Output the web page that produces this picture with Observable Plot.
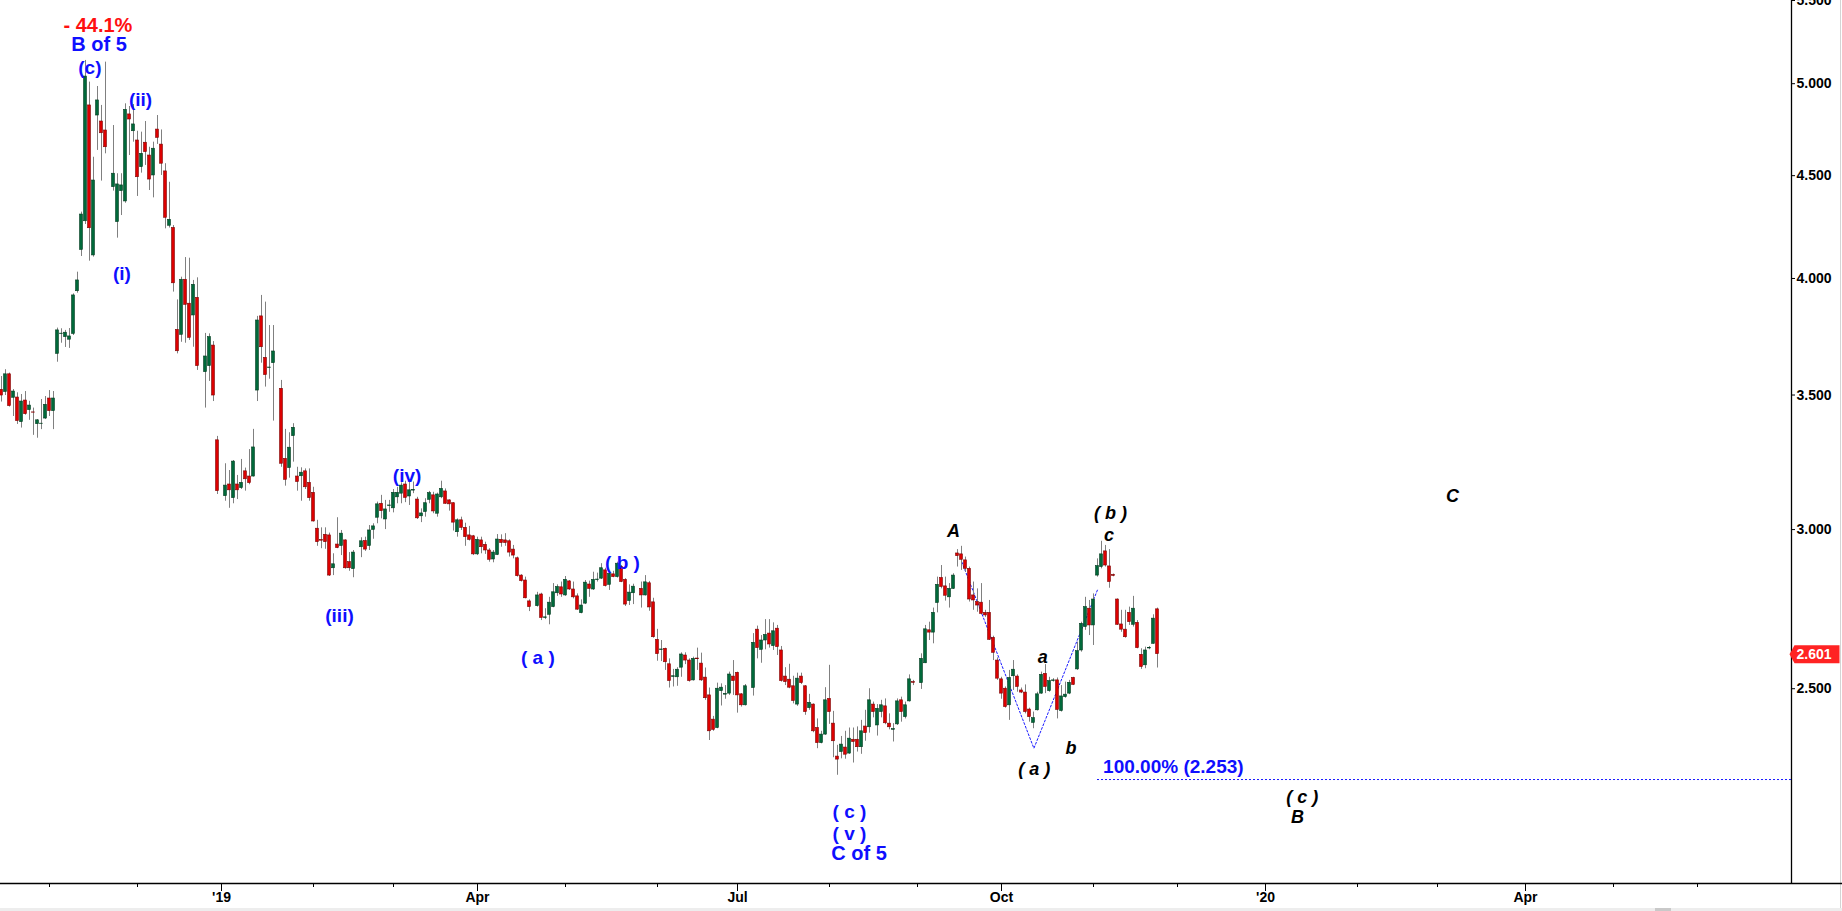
<!DOCTYPE html>
<html>
<head>
<meta charset="utf-8">
<script src="https://cdn.jsdelivr.net/npm/d3@7"></script>
<script src="https://cdn.jsdelivr.net/npm/@observablehq/plot@0.6"></script>
<style>
  html, body { margin: 0; padding: 0; background: #fff; overflow: hidden; }
  #wrap { position: relative; width: 1842px; height: 911px; overflow: hidden; background: #fff; }
  #wrap svg { position: absolute; left: 0; top: 0; }
  .strip { position: absolute; left: 0; top: 908px; width: 1842px; height: 3px; background: #ededed; }
  .thumb { position: absolute; left: 1655px; top: 908px; width: 16px; height: 3px; background: #c9c9c9; }
  .edge { position: absolute; left: 1840px; top: 0; width: 1px; height: 908px; background: #d4d4d4; }
</style>
</head>
<body>
<div id="wrap"><div class="edge"></div><div class="strip"></div><div class="thumb"></div></div>
<script>
// ---------------- DATA ----------------
const firstDay = "2018-10-16";            // first weekday slot shown
const holidays = ["2018-11-22","2018-12-25","2019-01-01","2019-01-21","2019-02-18",
                  "2019-04-19","2019-05-27","2019-07-04","2019-09-02"];

const open = [
  // Oct 16 - Nov 21, 2018
  3.521,3.512,3.584,3.489,3.490,3.393,3.478,3.440,3.431,3.385,3.386,3.407,3.486,3.436,
  3.669,3.753,3.740,3.729,3.754,3.942,4.133,4.271,4.877,4.107,4.821,4.788,4.739,
  // Nov 23 - Dec 24
  4.441,4.267,4.421,4.369,4.827,4.735,4.685,4.544,4.673,4.605,4.501,4.744,4.663,4.522,4.249,4.238,3.771,3.750,3.994,3.886,3.834,3.912,
  // Dec 26 - Dec 31
  3.593,3.618,3.704,3.323,
  // Jan 2 - Jan 18, 2019
  3.117,3.159,3.110,3.159,3.146,3.207,3.188,3.188,3.518,3.830,3.652,3.610,3.630,
  // Jan 22 - Feb 15
  3.525,3.253,3.219,3.339,3.188,3.189,3.207,3.165,3.129,3.003,2.964,2.982,2.980,2.870,2.949,2.944,2.963,2.890,2.867,
  // Feb 19 - Apr 18
  2.940,2.961,2.944,2.999,3.041,3.090,3.035,3.082,3.074,3.113,3.126,3.159,3.116,3.137,3.105,3.046,3.061,3.104,3.120,3.055,3.113,3.134,3.102,3.092,2.991,3.032,3.006,2.980,2.977,2.916,2.963,2.948,2.929,2.899,2.914,2.965,2.963,2.960,2.932,2.903,2.846,2.830,2.763,
  // Apr 22 - May 24
  2.748,2.785,2.711,2.721,2.745,2.789,2.808,2.782,2.827,2.801,2.779,2.726,2.756,2.817,2.801,2.831,2.836,2.863,2.816,2.850,2.841,2.874,2.832,2.764,2.789,
  // May 28 - Jul 3
  2.803,2.782,2.821,2.760,2.644,2.613,2.617,2.571,2.534,2.533,2.561,2.597,2.582,2.524,2.588,2.573,2.532,2.481,2.413,2.390,2.493,2.483,2.486,2.535,2.546,2.484,2.453,
  // Jul 5 - Aug 30
  2.502,2.675,2.614,2.642,2.663,2.625,2.678,2.612,2.535,2.526,2.507,2.455,2.535,2.507,2.445,2.455,2.390,2.349,2.372,2.471,2.402,2.313,2.325,2.337,2.321,2.358,2.358,2.338,2.394,2.392,2.455,2.397,2.434,2.450,2.402,2.385,2.400,2.467,2.420,2.464,2.519,
  // Sep 3 - Nov 22
  2.516,2.574,2.673,2.666,2.758,2.838,2.811,2.776,2.803,2.919,2.916,2.896,2.868,2.782,2.761,2.759,2.727,2.727,2.650,2.582,2.527,2.500,2.453,2.536,2.535,2.495,2.489,2.441,2.404,2.439,2.486,2.543,2.493,2.522,2.524,2.437,2.476,2.486,2.531,2.556,2.612,2.683,2.740,2.688,2.846,2.874,2.926,2.876,2.848,2.769,2.691,2.675,2.727,2.690,2.696,2.599,2.568,2.618,2.632,2.738
];
const high = [
  3.575,3.603,3.589,3.522,3.509,3.502,3.514,3.475,3.448,3.403,3.482,3.494,3.518,3.514,
  3.779,3.776,3.769,3.777,3.930,4.029,4.316,5.135,5.009,4.596,4.984,4.877,5.125,
  4.766,4.510,4.510,4.886,4.871,4.882,4.735,4.730,4.788,4.649,4.676,4.821,4.742,4.562,4.466,4.250,3.903,4.006,4.097,4.094,3.991,4.003,
  3.756,3.754,3.721,3.338,
  3.235,3.210,3.247,3.192,3.251,3.219,3.288,3.365,3.830,3.923,3.893,3.790,3.790,
  3.559,3.365,3.352,3.387,3.222,3.220,3.216,3.216,3.149,3.032,3.006,3.006,2.988,2.918,3.041,2.997,2.965,2.922,2.929,
  2.972,2.974,3.014,3.020,3.096,3.120,3.102,3.102,3.141,3.149,3.165,3.171,3.171,3.168,3.113,3.072,3.108,3.134,3.131,3.128,3.171,3.143,3.104,3.094,3.037,3.043,3.022,3.011,2.980,2.974,2.974,2.957,2.935,2.929,2.983,2.982,2.986,2.965,2.946,2.907,2.849,2.841,2.768,
  2.792,2.789,2.740,2.776,2.820,2.816,2.825,2.843,2.830,2.825,2.787,2.768,2.830,2.828,2.857,2.854,2.885,2.870,2.855,2.860,2.890,2.879,2.836,2.816,2.818,
  2.825,2.846,2.827,2.773,2.676,2.642,2.619,2.587,2.556,2.561,2.605,2.605,2.587,2.592,2.619,2.604,2.560,2.502,2.422,2.516,2.514,2.509,2.548,2.582,2.548,2.486,2.512,
  2.663,2.686,2.657,2.706,2.706,2.696,2.688,2.624,2.561,2.571,2.536,2.545,2.545,2.509,2.484,2.457,2.415,2.381,2.503,2.568,2.436,2.343,2.367,2.381,2.390,2.390,2.393,2.411,2.439,2.500,2.462,2.455,2.467,2.471,2.429,2.402,2.471,2.476,2.462,2.540,2.524,
  2.602,2.688,2.698,2.742,2.841,2.879,2.841,2.820,2.852,2.932,2.943,2.907,2.874,2.825,2.803,2.820,2.735,2.766,2.655,2.590,2.533,2.505,2.553,2.582,2.540,2.502,2.511,2.445,2.434,2.490,2.548,2.570,2.533,2.529,2.531,2.509,2.519,2.524,2.533,2.637,2.698,2.776,2.766,2.787,2.901,2.960,2.946,2.932,2.851,2.771,2.735,2.735,2.745,2.779,2.703,2.617,2.622,2.624,2.721,2.742
];
const low = [
  3.472,3.498,3.452,3.415,3.384,3.370,3.420,3.400,3.342,3.331,3.364,3.403,3.415,3.364,
  3.634,3.714,3.696,3.692,3.747,3.933,4.102,4.255,4.080,4.099,4.632,4.472,4.614,
  4.421,4.189,4.299,4.360,4.605,4.676,4.394,4.513,4.553,4.424,4.387,4.664,4.501,4.234,4.238,3.938,3.669,3.718,3.714,3.726,3.697,3.600,
  3.448,3.555,3.474,3.123,
  3.099,3.074,3.090,3.105,3.141,3.135,3.158,3.186,3.474,3.630,3.532,3.564,3.397,
  3.222,3.153,3.182,3.241,3.135,3.099,3.141,3.099,3.026,2.943,2.935,2.933,2.843,2.846,2.935,2.912,2.867,2.860,2.839,
  2.905,2.926,2.929,2.967,3.020,3.037,3.000,3.060,3.058,3.090,3.090,3.094,3.084,3.126,3.035,3.024,3.043,3.090,3.055,3.043,3.108,3.088,3.064,2.995,2.974,2.997,2.943,2.961,2.912,2.912,2.918,2.916,2.890,2.888,2.912,2.940,2.943,2.907,2.901,2.841,2.825,2.771,2.731,
  2.745,2.703,2.706,2.690,2.743,2.779,2.776,2.779,2.798,2.771,2.735,2.724,2.753,2.776,2.798,2.825,2.833,2.809,2.798,2.839,2.838,2.823,2.747,2.750,2.753,
  2.742,2.780,2.732,2.649,2.580,2.579,2.553,2.502,2.505,2.507,2.533,2.570,2.519,2.522,2.553,2.521,2.467,2.356,2.381,2.388,2.451,2.470,2.481,2.481,2.431,2.448,2.451,
  2.479,2.587,2.574,2.614,2.619,2.612,2.597,2.519,2.509,2.500,2.457,2.450,2.512,2.425,2.439,2.377,2.334,2.347,2.370,2.400,2.310,2.264,2.307,2.306,2.319,2.296,2.325,2.319,2.354,2.376,2.418,2.368,2.418,2.399,2.385,2.352,2.397,2.406,2.415,2.462,2.509,
  2.498,2.573,2.642,2.632,2.727,2.803,2.764,2.742,2.801,2.874,2.863,2.857,2.761,2.735,2.729,2.721,2.713,2.642,2.582,2.524,2.470,2.445,2.411,2.495,2.490,2.486,2.429,2.406,2.388,2.437,2.484,2.486,2.490,2.519,2.415,2.434,2.473,2.483,2.509,2.553,2.607,2.673,2.657,2.627,2.841,2.868,2.874,2.805,2.842,2.688,2.667,2.649,2.688,2.683,2.617,2.556,2.558,2.614,2.631,2.560
];
const close = [
  3.498,3.584,3.456,3.514,3.397,3.474,3.424,3.458,3.430,3.400,3.387,3.461,3.436,3.486,
  3.769,3.755,3.759,3.743,3.923,3.991,4.304,5.041,4.237,4.475,4.905,4.724,4.649,
  4.510,4.455,4.450,4.852,4.799,4.772,4.492,4.614,4.623,4.480,4.641,4.699,4.562,4.288,4.278,3.978,3.680,3.994,3.881,3.737,3.971,3.618,
  3.658,3.740,3.498,3.135,
  3.155,3.138,3.243,3.138,3.165,3.178,3.164,3.296,3.812,3.697,3.581,3.612,3.679,
  3.235,3.176,3.295,3.371,3.168,3.202,3.149,3.110,3.028,2.957,2.962,2.957,2.846,2.883,2.937,2.986,2.870,2.870,2.922,
  2.960,2.932,2.997,3.011,3.088,3.064,3.070,3.084,3.129,3.129,3.155,3.111,3.138,3.139,3.039,3.056,3.092,3.128,3.063,3.123,3.143,3.090,3.088,3.024,3.032,3.006,2.974,2.965,2.916,2.965,2.940,2.929,2.898,2.922,2.966,2.954,2.954,2.922,2.912,2.844,2.828,2.773,2.745,
  2.782,2.711,2.713,2.759,2.792,2.809,2.785,2.832,2.801,2.776,2.737,2.750,2.823,2.803,2.832,2.833,2.870,2.812,2.852,2.841,2.885,2.825,2.753,2.791,2.810,
  2.782,2.824,2.744,2.652,2.601,2.615,2.577,2.522,2.536,2.555,2.600,2.582,2.522,2.587,2.586,2.524,2.473,2.381,2.385,2.500,2.503,2.485,2.541,2.522,2.481,2.453,2.507,
  2.635,2.619,2.642,2.659,2.630,2.670,2.622,2.522,2.519,2.503,2.465,2.529,2.516,2.434,2.460,2.381,2.349,2.372,2.467,2.434,2.354,2.305,2.345,2.318,2.361,2.352,2.338,2.381,2.376,2.467,2.434,2.443,2.453,2.403,2.392,2.387,2.464,2.434,2.453,2.527,2.517,
  2.587,2.676,2.666,2.727,2.816,2.809,2.781,2.803,2.846,2.910,2.898,2.868,2.769,2.766,2.750,2.724,2.719,2.644,2.605,2.529,2.486,2.448,2.531,2.555,2.505,2.489,2.434,2.420,2.417,2.484,2.540,2.505,2.522,2.524,2.440,2.478,2.483,2.517,2.511,2.610,2.693,2.745,2.688,2.769,2.877,2.916,2.879,2.825,2.845,2.690,2.675,2.652,2.698,2.740,2.619,2.563,2.612,2.620,2.709,2.601
];

const yTicks = [2.5, 3.0, 3.5, 4.0, 4.5, 5.0, 5.5];
const tickMonths = ["2018-11","2018-12","2019-01","2019-02","2019-03","2019-04","2019-05","2019-06",
  "2019-07","2019-08","2019-09","2019-10","2019-11","2019-12","2020-01","2020-02","2020-03",
  "2020-04","2020-05","2020-06"];
const quarterLabels = {"2019-01":"'19","2019-04":"Apr","2019-07":"Jul","2019-10":"Oct","2020-01":"'20","2020-04":"Apr"};

const lastPrice = 2.601;
const targetLevel = 2.253;
const targetText = "100.00% (2.253)";
const targetStartSlot = 274;

// Elliott wave labels: slot position (weekday index), price, text
const blueLabels = [
  {slot: 22.1, price: 5.091, text: "(c)"},
  {slot: 34.75, price: 4.910, text: "(ii)"},
  {slot: 30.1, price: 4.019, text: "(i)"},
  {slot: 84.5, price: 2.716, text: "(iii)"},
  {slot: 101.4, price: 3.189, text: "(iv)"},
  {slot: 134.1, price: 2.591, text: "( a )"},
  {slot: 155.25, price: 2.888, text: "( b )"},
  {slot: 212, price: 2.170, text: "( c )"},
  {slot: 212, price: 2.118, text: "( v )"}
];
const blueTitles = [
  {slot: 24.4, price: 5.230, text: "B of 5"},
  {slot: 214.4, price: 2.070, text: "C of 5"}
];
const redLabels = [{slot: 24.1, price: 5.345, text: "- 44.1%"}];
const blackLabels = [
  {slot: 238, price: 2.994, text: "A"},
  {slot: 277.25, price: 3.056, text: "( b )"},
  {slot: 276.9, price: 2.980, text: "c"},
  {slot: 260.3, price: 2.592, text: "a"},
  {slot: 267.4, price: 2.334, text: "b"},
  {slot: 258.2, price: 2.281, text: "( a )"},
  {slot: 325.2, price: 2.208, text: "( c )"},
  {slot: 324, price: 2.158, text: "B"},
  {slot: 362.75, price: 3.116, text: "C"}
];
const zigzag = [
  {slot: 240.1, price: 2.890},
  {slot: 258.1, price: 2.335},
  {slot: 274.1, price: 2.803}
];

// ---------------- BUILD ----------------
const FONT = "'Liberation Sans', Arial, Helvetica, sans-serif";
const slotDates = [];
{
  let t = Date.parse(firstDay + "T00:00:00Z");
  while (slotDates.length < 480) {
    const d = new Date(t);
    const wd = d.getUTCDay();
    if (wd !== 0 && wd !== 6) slotDates.push(d.toISOString().slice(0, 10));
    t += 86400000;
  }
}
const holidaySet = new Set(holidays);
const tradingSlots = [];
slotDates.forEach((d, s) => { if (!holidaySet.has(d)) tradingSlots.push(s); });
const candles = close.map((c, j) => ({
  slot: tradingSlots[j], date: slotDates[tradingSlots[j]],
  open: open[j], high: high[j], low: low[j], close: c
}));
const upC = candles.filter(d => d.close >= d.open);
const downC = candles.filter(d => d.close < d.open);

const slotOfMonth = ym => slotDates.findIndex(d => d >= ym + "-01");
const majorMap = new Map();
const minorSlots = [];
tickMonths.forEach(m => {
  const s = slotOfMonth(m);
  if (quarterLabels[m]) majorMap.set(s, quarterLabels[m]); else minorSlots.push(s);
});
const majorSlots = [...majorMap.keys()];

const X_MIN = -0.25, X_MAX = 447.5;
const GREEN = "#00693a", GREEN_EDGE = "#003b1e";
const RED = "#dc0000", RED_EDGE = "#7c0000";
const HALF = 0.36;

const tagSymbol = {
  draw(ctx) {
    ctx.moveTo(-2, 0); ctx.lineTo(3, -9); ctx.lineTo(48, -9);
    ctx.lineTo(48, 9); ctx.lineTo(3, 9); ctx.closePath();
  }
};

const chart = Plot.plot({
  width: 1842, height: 911,
  marginTop: 0, marginRight: 51, marginBottom: 28, marginLeft: 0,
  x: {type: "linear", domain: [X_MIN, X_MAX], axis: null, label: null},
  y: {type: "log", domain: [2.0, 5.5], axis: null, label: null},
  style: {background: "transparent", fontFamily: FONT, fontSize: "14px", fontWeight: "bold", color: "#000", overflow: "visible"},
  marks: [
    // axes lines
    Plot.ruleY([2.0], {x1: X_MIN, x2: 460.25, stroke: "#000", strokeWidth: 1.3}),
    Plot.ruleX([X_MAX], {y1: 2.0, y2: 5.5, stroke: "#000", strokeWidth: 1.3}),
    Plot.axisX(minorSlots, {anchor: "bottom", tickSize: 4, tickFormat: () => "", label: null}),
    Plot.axisX(majorSlots, {anchor: "bottom", tickSize: 8, tickPadding: 1, tickFormat: s => majorMap.get(s),
      fontSize: 14, fontWeight: "bold", label: null}),
    Plot.axisY(yTicks, {anchor: "right", tickSize: 3, tickPadding: 2, tickFormat: d3.format(".3f"),
      fontSize: 14, fontWeight: "bold", label: null}),
    // target level
    Plot.ruleY([targetLevel], {x1: targetStartSlot, x2: X_MAX, stroke: "#1a1aff", strokeWidth: 1, strokeDasharray: "2,2"}),
    Plot.line(zigzag, {x: "slot", y: "price", stroke: "#1a1aff", strokeWidth: 1, strokeDasharray: "2,2"}),
    // candles
    Plot.ruleX(candles, {x: "slot", y1: "low", y2: "high", stroke: "#808080", strokeWidth: 1}),
    Plot.rect(upC, {x1: d => d.slot - HALF, x2: d => d.slot + HALF, y1: "open", y2: "close",
      fill: GREEN, stroke: GREEN_EDGE, strokeWidth: 0.6}),
    Plot.rect(downC, {x1: d => d.slot - HALF, x2: d => d.slot + HALF, y1: "open", y2: "close",
      fill: RED, stroke: RED_EDGE, strokeWidth: 0.6}),
    // labels
    Plot.text(blueLabels, {x: "slot", y: "price", text: "text", fill: "#0f0fff", fontSize: 19, fontWeight: "bold", fontFamily: FONT}),
    Plot.text(blueTitles, {x: "slot", y: "price", text: "text", fill: "#0f0fff", fontSize: 20, fontWeight: "bold", fontFamily: FONT}),
    Plot.text(redLabels, {x: "slot", y: "price", text: "text", fill: "#ff1010", fontSize: 20, fontWeight: "bold", fontFamily: FONT}),
    Plot.text(blackLabels, {x: "slot", y: "price", text: "text", fill: "#000", fontSize: 18, fontWeight: "bold", fontStyle: "italic", fontFamily: FONT}),
    Plot.text([targetText], {x: targetStartSlot + 1.4, y: targetLevel, text: d => d, dy: -13, textAnchor: "start",
      fill: "#0f0fff", fontSize: 19, fontWeight: "bold", fontFamily: FONT}),
    // last price tag
    Plot.dot([lastPrice], {x: () => X_MAX, y: d => d, symbol: tagSymbol, fill: "#ff2323", stroke: null, r: 5}),
    Plot.text([lastPrice], {x: () => X_MAX, y: d => d, text: d => d.toFixed(3), dx: 5, textAnchor: "start",
      fill: "#fff", fontSize: 14, fontWeight: "bold", fontFamily: FONT})
  ]
});
document.getElementById("wrap").appendChild(chart);
</script>
</body>
</html>
